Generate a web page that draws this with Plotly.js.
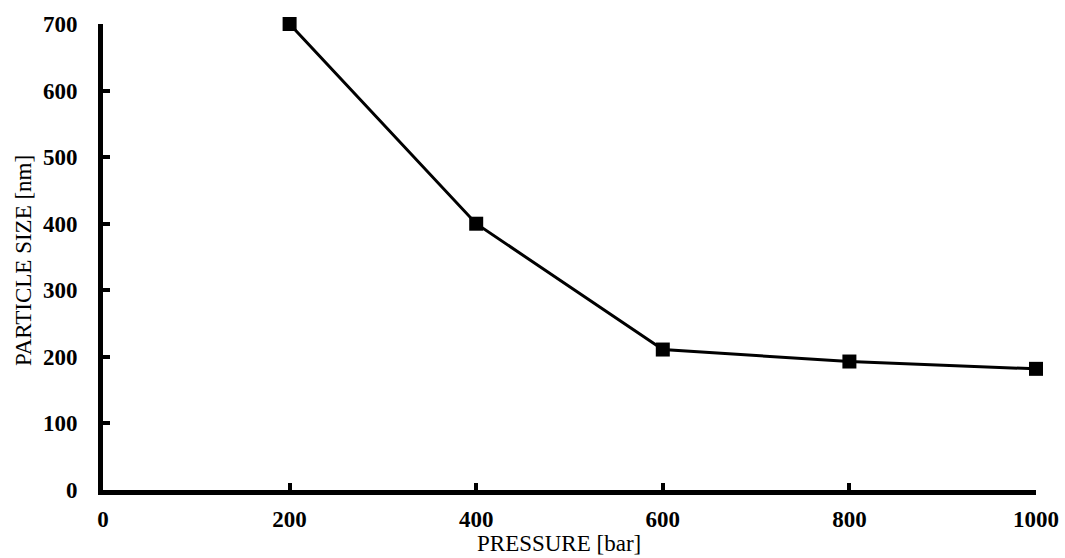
<!DOCTYPE html>
<html>
<head>
<meta charset="utf-8">
<script src="https://cdn.plot.ly/plotly-3.0.1.min.js"></script>
<style>html,body{margin:0;padding:0;background:#fff;}#chart{width:1065px;height:558px;}</style>
</head>
<body>
<div id="chart"></div>
<script>
const pressure = [200, 400, 600, 800, 1000];
const particleSize = [700, 400, 211, 193, 182];
const xTicks = [0, 200, 400, 600, 800, 1000];
const yTicks = [0, 100, 200, 300, 400, 500, 600, 700];
const xTitle = 'PRESSURE [bar]';
const yTitle = 'PARTICLE SIZE [nm]';

const tickFont = {family: 'Liberation Serif, DejaVu Serif, serif', size: 23, color: '#000', weight: 'bold'};
const titleFont = {family: 'Liberation Serif, DejaVu Serif, serif', size: 23, color: '#000'};

const trace = {
  x: pressure, y: particleSize, type: 'scatter', mode: 'lines+markers',
  line: {color: '#000', width: 3},
  marker: {symbol: 'square', size: 14, color: '#000'},
  cliponaxis: false, showlegend: false
};

const plotL = 103, plotR = 1036, plotT = 24, plotB = 490;

const layout = {
  width: 1065, height: 558,
  margin: {l: plotL, r: 1065 - plotR, t: plotT, b: 558 - plotB},
  paper_bgcolor: '#fff', plot_bgcolor: '#fff',
  xaxis: {
    range: [0, 1000], tickvals: xTicks, ticktext: xTicks.map(String),
    showgrid: false, zeroline: false, showline: true, linecolor: '#000', linewidth: 5,
    ticks: 'inside', ticklen: 7, tickwidth: 4, tickcolor: '#000',
    tickfont: tickFont, ticklabelstandoff: 4
  },
  yaxis: {
    range: [0, 700], tickvals: yTicks, ticktext: yTicks.map(String),
    showgrid: false, zeroline: false, showline: true, linecolor: '#000', linewidth: 5,
    ticks: 'inside', ticklen: 7, tickwidth: 4, tickcolor: '#000',
    tickfont: tickFont, ticklabelstandoff: 16
  },
  annotations: [
    {
      text: xTitle, xref: 'paper', yref: 'paper', x: (559 - plotL) / (plotR - plotL), y: 0,
      yshift: -(543 - plotB), xanchor: 'center', yanchor: 'middle', showarrow: false, font: titleFont
    },
    {
      text: yTitle, xref: 'paper', yref: 'paper', x: 0, y: (plotB - 261) / (plotB - plotT),
      xshift: 23 - plotL, xanchor: 'center', yanchor: 'middle', textangle: -90, showarrow: false, font: titleFont
    }
  ]
};

Plotly.newPlot('chart', [trace], layout, {displayModeBar: false, staticPlot: true});
</script>
</body>
</html>
